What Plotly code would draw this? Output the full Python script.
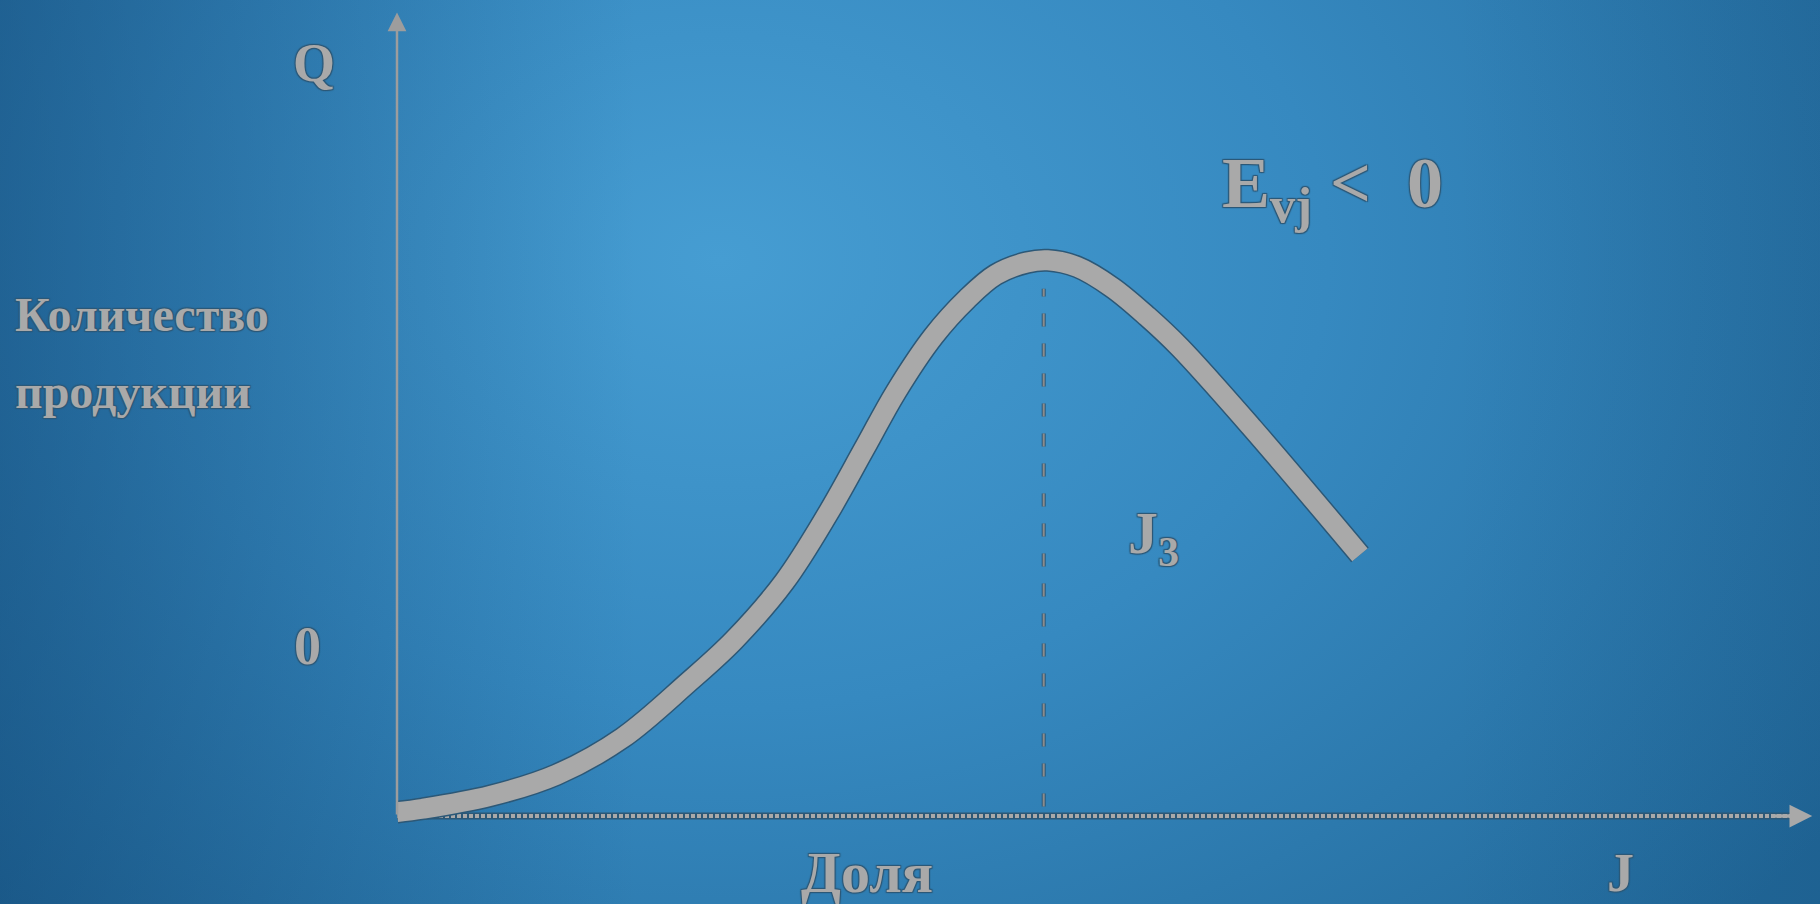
import base64
import plotly.graph_objects as go

# ---- data (J = input, Q = output) ----
curve_j = [0, 0.2, 0.72, 1.23, 1.74, 2.24, 2.6, 2.99, 3.32, 3.61, 3.85, 4.14, 4.4, 4.62, 4.86, 5.02,
           5.25, 5.52, 5.79, 6.04, 6.6, 7.43]
curve_q = [0.07, 0.13, 0.36, 0.74, 1.40, 2.38, 3.15, 4.2, 5.4, 6.6, 7.6, 8.6, 9.27, 9.7, 9.92, 9.96,
           9.84, 9.47, 8.95, 8.4, 6.95, 4.68]
j_opt = 4.99
q_dash = [0.17, 9.45]
axis_j_end = 10.92
axis_q_end = 14.4

label_q = "Q"
label_zero = "0"
label_y = ["Количество", "продукции"]
label_x = "Доля"
label_j = "J"
label_j3 = "J<sub>3</sub>"
label_e = "E<sub>vj</sub> <  0"

# ---- style ----
W, H = 1820, 904
PX_X0, UNIT_X = 397, 129.6
PX_Y0, UNIT_Y = 816, 55.8
x_range = [-PX_X0 / UNIT_X, (W - PX_X0) / UNIT_X]
y_range = [(PX_Y0 - H) / UNIT_Y, PX_Y0 / UNIT_Y]

GRAY = "#a9a9a9"
OUTLINE = "#2c5877"
shadow = ", ".join(f"{dx}px {dy}px 1px {OUTLINE}" for dx, dy in [(1, 1), (-1, -1), (1, -1), (-1, 1)])
FONT = "Liberation Serif"

svg = (
    f'<svg xmlns="http://www.w3.org/2000/svg" width="{W}" height="{H}">'
    '<defs>'
    '<radialGradient id="g" gradientUnits="userSpaceOnUse" cx="720" cy="260" r="1000" '
    'gradientTransform="translate(720 260) scale(1.35 1) translate(-720 -260)">'
    '<stop offset="0" stop-color="#469dd2"/>'
    '<stop offset="0.45" stop-color="#3689c0"/>'
    '<stop offset="1" stop-color="#22699a"/>'
    '</radialGradient>'
    '<linearGradient id="l" x1="0" y1="0" x2="1" y2="0">'
    '<stop offset="0" stop-color="#0a3a66" stop-opacity="0.45"/>'
    '<stop offset="0.35" stop-color="#0a3a66" stop-opacity="0"/>'
    '<stop offset="0.8" stop-color="#0a3a66" stop-opacity="0"/>'
    '<stop offset="1" stop-color="#0a3a66" stop-opacity="0.15"/>'
    '</linearGradient>'
    '</defs>'
    f'<rect width="{W}" height="{H}" fill="url(#g)"/>'
    f'<rect width="{W}" height="{H}" fill="url(#l)"/></svg>'
)
bg_uri = "data:image/svg+xml;base64," + base64.b64encode(svg.encode()).decode()

fig = go.Figure()


def line(xs, ys, color, width, dash=None, shape="linear"):
    fig.add_trace(go.Scatter(x=xs, y=ys, mode="lines",
                             line=dict(color=color, width=width, dash=dash, shape=shape,
                                       smoothing=1.0 if shape == "spline" else None),
                             hoverinfo="skip", showlegend=False))


# x axis (textured dotted line)
line([0, axis_j_end - 0.1], [0, 0], OUTLINE, 7)
line([0, axis_j_end - 0.1], [0, 0], GRAY, 4, dash="4px,2px")

# dashed optimum line
line([j_opt, j_opt], q_dash, OUTLINE, 4, dash="13px,17px")
line([j_opt, j_opt], q_dash, "#8c8c8c", 2, dash="13px,17px")

# curve (outline + fill)
line(curve_j, curve_q, OUTLINE, 23, shape="spline")
line(curve_j, curve_q, GRAY, 20, shape="spline")

annotations = []
# y axis arrow
annotations.append(dict(x=0, y=axis_q_end, ax=0, ay=0, xref="x", yref="y", axref="x", ayref="y",
                        showarrow=True, arrowhead=2, arrowsize=1.5, arrowwidth=2.5,
                        arrowcolor="#9d9d9d", text=""))
# x axis arrow head
annotations.append(dict(x=axis_j_end, y=0, ax=axis_j_end - 0.3, ay=0, xref="x", yref="y", axref="x", ayref="y",
                        showarrow=True, arrowhead=2, arrowsize=1.3, arrowwidth=3.5,
                        arrowcolor=GRAY, text=""))


def txt(text, x, y, size, xanchor="center"):
    annotations.append(dict(text=text, x=x, y=y, xref="x", yref="y", showarrow=False,
                            xanchor=xanchor, yanchor="middle",
                            font=dict(family=FONT, size=size, color=GRAY, weight="bold", shadow=shadow)))


txt(label_q, -0.64, 13.5, 54)
txt(label_zero, -0.69, 3.05, 54)
txt(label_y[0], -2.96, 8.98, 48, xanchor="left")
txt(label_y[1], -2.96, 7.6, 48, xanchor="left")
txt(label_x, 3.63, -1.02, 58)
txt(label_j, 9.44, -1.02, 54)
txt(label_j3, 5.84, 5.0, 60)
txt(label_e, 7.22, 11.25, 72)

fig.update_layout(
    width=W, height=H,
    margin=dict(l=0, r=0, t=0, b=0),
    paper_bgcolor="#2a7ab0", plot_bgcolor="rgba(0,0,0,0)",
    xaxis=dict(range=x_range, visible=False, fixedrange=True),
    yaxis=dict(range=y_range, visible=False, fixedrange=True),
    annotations=annotations,
    images=[dict(source=bg_uri, xref="paper", yref="paper", x=0, y=1, sizex=1, sizey=1,
                 sizing="stretch", xanchor="left", yanchor="top", layer="below")],
    showlegend=False,
)

fig.write_html("out.html", config={"displayModeBar": False},
               post_script="document.body.style.margin='0';document.body.style.overflow='hidden';")
